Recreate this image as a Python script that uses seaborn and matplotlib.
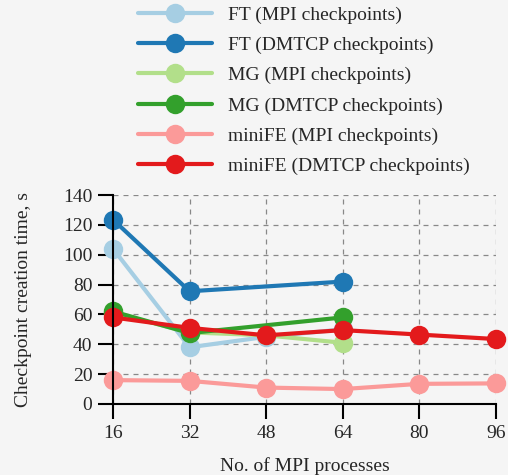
import pandas as pd
import matplotlib
matplotlib.use('Agg')
import matplotlib.pyplot as plt
import seaborn as sns

# data
procs_ft_mpi = [16, 32, 48, 64]
ft_mpi = [104, 38, 45, 50]
procs_ft_dmtcp = [16, 32, 64]
ft_dmtcp = [123.5, 75.5, 82]
procs_mg_mpi = [16, 32, 48, 64]
mg_mpi = [61, 48, 46, 41]
procs_mg_dmtcp = [16, 32, 64]
mg_dmtcp = [62, 47.5, 58]
procs_minife = [16, 32, 48, 64, 80, 96]
minife_mpi = [16, 15.5, 11, 10, 13.5, 13.8]
minife_dmtcp = [58, 51, 46, 49.5, 46.5, 43.5]

series_names = ["FT (MPI checkpoints)", "FT (DMTCP checkpoints)",
                "MG (MPI checkpoints)", "MG (DMTCP checkpoints)",
                "miniFE (MPI checkpoints)", "miniFE (DMTCP checkpoints)"]
colors = ["#a6cee3", "#1f78b4", "#b2df8a", "#33a02c", "#fb9a99", "#e31a1c"]

rows = []
for name, xs, ys in zip(series_names,
                        [procs_ft_mpi, procs_ft_dmtcp, procs_mg_mpi, procs_mg_dmtcp, procs_minife, procs_minife],
                        [ft_mpi, ft_dmtcp, mg_mpi, mg_dmtcp, minife_mpi, minife_dmtcp]):
    for x, y in zip(xs, ys):
        rows.append({"procs": x, "time": y, "series": name})
df = pd.DataFrame(rows)

sns.set_style("white")
plt.rcParams['font.family'] = ['Liberation Serif', 'DejaVu Serif']
plt.rcParams['axes.facecolor'] = '#f5f5f5'
plt.rcParams['figure.facecolor'] = '#f5f5f5'

fig = plt.figure(figsize=(5.08, 4.75), dpi=100)
ax = fig.add_axes([113/508, 1 - 404/475, (496 - 113)/508, (404 - 195)/475])

sns.lineplot(data=df, x="procs", y="time", hue="series", hue_order=series_names,
             palette=colors, marker="o", markersize=14, markeredgewidth=0,
             linewidth=3, ax=ax, legend=True, clip_on=False)

ax.set_xlim(16, 96)
ax.set_ylim(0, 140)
ax.set_xticks([16, 32, 48, 64, 80, 96])
ax.set_yticks(range(0, 141, 20))
ax.grid(True, linestyle=(0, (4, 4)), color='#888888', linewidth=0.9)
ax.set_axisbelow(True)
for s in ['top', 'right']:
    ax.spines[s].set_visible(False)
for s in ['left', 'bottom']:
    ax.spines[s].set_linewidth(1.5)
    ax.spines[s].set_color('black')
ax.tick_params(bottom=True, left=True, direction='out', length=10.8, width=1.5,
               labelsize=14, color='black', pad=4)
ax.set_xlabel("No. of MPI processes", fontsize=14, labelpad=11)
ax.set_ylabel("Checkpoint creation time, s", fontsize=14, labelpad=22)

handles, labels = ax.get_legend_handles_labels()
ax.get_legend().remove()
fig.legend(handles, labels, loc='upper left', bbox_to_anchor=(136/508, 1 - 4/475),
           frameon=False, fontsize=14, handlelength=3.8, labelspacing=0.65,
           handletextpad=0.85, borderaxespad=0.0, borderpad=0.1)

fig.savefig("out.png", dpi=100, facecolor=fig.get_facecolor())
